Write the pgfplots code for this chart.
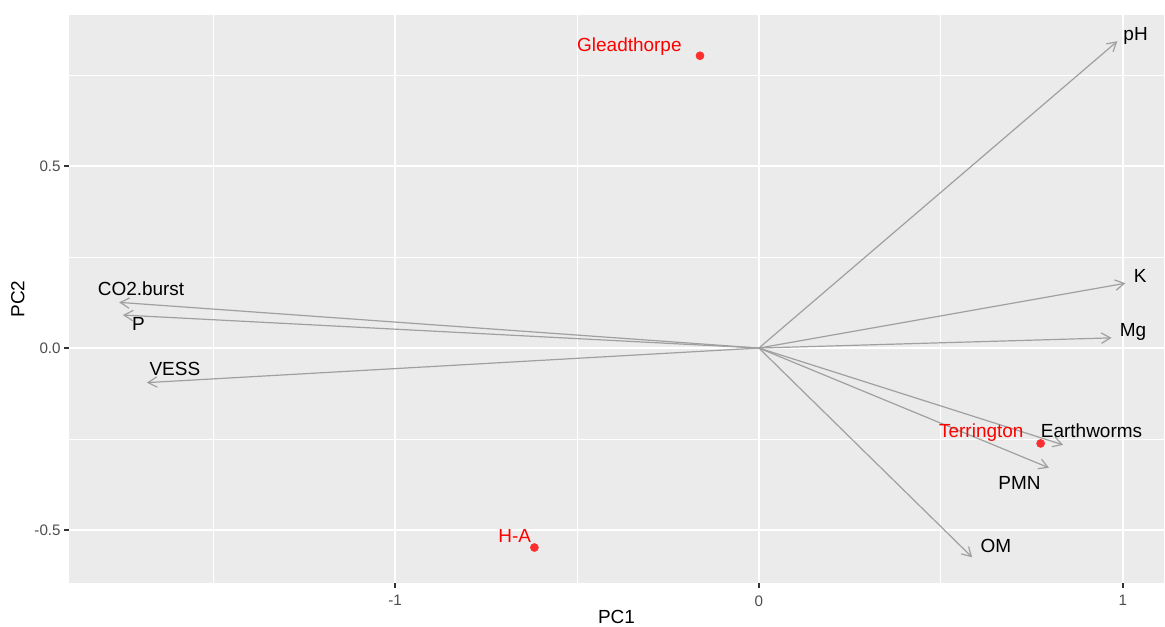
\documentclass[border=0pt]{standalone}
\usepackage{pgfplots}
\pgfplotsset{compat=1.18}
\usepackage{fontspec}
\setmainfont{Liberation Sans}
\usetikzlibrary{arrows.meta}

\definecolor{panelbg}{HTML}{EBEBEB}
\definecolor{tickgray}{HTML}{333333}
\definecolor{ticktext}{HTML}{4D4D4D}
\definecolor{vecgray}{HTML}{A0A0A0}
\definecolor{siteRed}{HTML}{FF0000}
\definecolor{siteDot}{RGB}{251,47,47}

\tikzset{
  vec/.style={vecgray, line width=0.7pt, no marks,
    -{Straight Barb[length=5.2pt,width=6pt,line width=0.7pt]}},
  lbl/.style={font=\fontsize{11}{13}\selectfont, inner sep=0pt, anchor=base},
}

\begin{document}
\begin{tikzpicture}
\begin{axis}[
  at={(0,0)}, anchor=south west,
  scale only axis, width=635pt, height=329.3pt,
  xmin=-1.896, xmax=1.113, ymin=-0.645, ymax=0.915,
  clip=false,
  axis background/.style={fill=panelbg},
  axis line style={draw=none},
  tick pos=left, tick align=outside,
  major tick length=2.75pt,
  tick style={tickgray, line width=0.8pt},
  xtick={-1,0,1}, xticklabels={-1,0,1},
  ytick={-0.5,0,0.5}, yticklabels={-0.5,0.0,0.5},
  minor xtick={-1.5,-0.5,0.5}, minor ytick={-0.25,0.25,0.75},
  minor tick length=0pt,
  grid=both,
  major grid style={white, line width=1.1pt},
  minor grid style={white, line width=0.55pt},
  xticklabel style={font=\fontsize{8.8}{10}\selectfont, text=ticktext, inner sep=0pt, anchor=north, yshift=-4.4pt},
  yticklabel style={font=\fontsize{8.8}{10}\selectfont, text=ticktext, inner sep=0pt, anchor=east, xshift=-1.9pt},
  xlabel={PC1}, ylabel={PC2},
  xlabel style={font=\fontsize{11}{13}\selectfont, inner sep=0pt,
    at={(axis description cs:0.5,-0.0714)}, anchor=base},
  ylabel style={font=\fontsize{11}{13}\selectfont, inner sep=0pt,
    at={(axis description cs:-0.0466,0.5)}, anchor=center, rotate=0},
]
% variable loadings
\addplot[vec] coordinates {(0,0) (0.985,0.843)};   % pH
\addplot[vec] coordinates {(0,0) (1.007,0.178)};   % K
\addplot[vec] coordinates {(0,0) (0.969,0.028)};   % Mg
\addplot[vec] coordinates {(0,0) (0.836,-0.266)};  % Earthworms
\addplot[vec] coordinates {(0,0) (0.797,-0.329)};  % PMN
\addplot[vec] coordinates {(0,0) (0.586,-0.575)};  % OM
\addplot[vec] coordinates {(0,0) (-1.758,0.1255)}; % CO2.burst
\addplot[vec] coordinates {(0,0) (-1.748,0.0907)}; % P
\addplot[vec] coordinates {(0,0) (-1.682,-0.095)}; % VESS

% site scores
\addplot[only marks, mark=*, mark size=2.3pt, siteDot] coordinates {
  (-0.162,0.803) (0.774,-0.262) (-0.617,-0.548)};

% loading labels
\node[lbl] at (axis cs:1.035,0.845) {pH};
\node[lbl] at (axis cs:1.048,0.1795) {K};
\node[lbl] at (axis cs:1.028,0.033) {Mg};
\node[lbl] at (axis cs:0.914,-0.246) {Earthworms};
\node[lbl] at (axis cs:0.716,-0.388) {PMN};
\node[lbl] at (axis cs:0.651,-0.5624) {OM};
\node[lbl] at (axis cs:-1.698,0.1437) {CO2.burst};
\node[lbl] at (axis cs:-1.705,0.0495) {P};
\node[lbl] at (axis cs:-1.605,-0.0742) {VESS};

% site labels
\node[lbl, text=siteRed] at (axis cs:-0.356,0.816) {Gleadthorpe};
\node[lbl, text=siteRed] at (axis cs:0.611,-0.246) {Terrington};
\node[lbl, text=siteRed] at (axis cs:-0.671,-0.5354) {H-A};
\end{axis}
\pgfresetboundingbox
\useasboundingbox (-40pt,-25.1pt) rectangle (635.6pt,338pt);
\end{tikzpicture}
\end{document}
